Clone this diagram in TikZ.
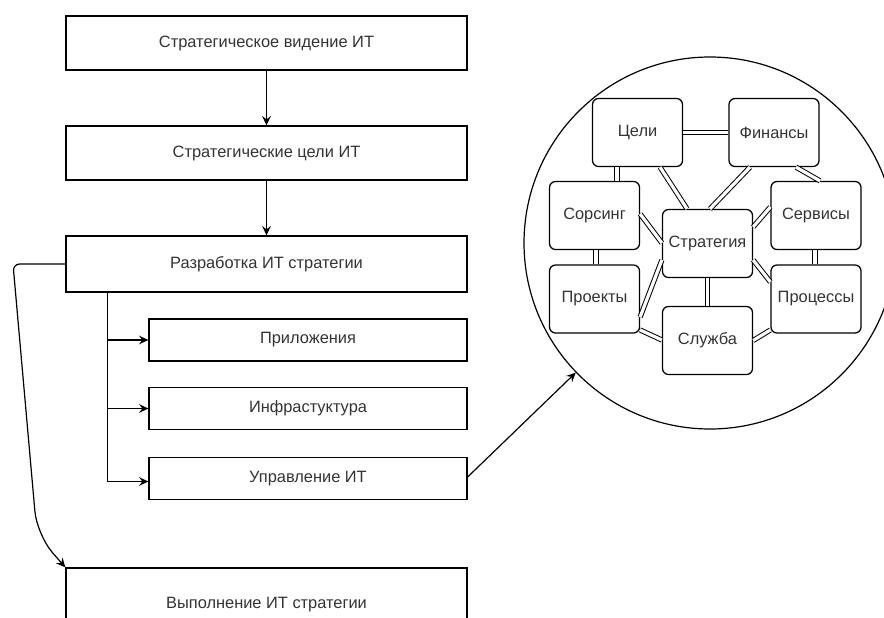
\documentclass[tikz,border=0pt]{standalone}
\usepackage{fontspec}
\setmainfont{Liberation Sans}
\usetikzlibrary{arrows.meta}
\begin{document}
\begin{tikzpicture}[x=0.75pt,y=-0.75pt,
  every node/.style={font=\fontsize{12.3}{14}\selectfont, text=black!80},
  box/.style={draw, line width=0.95pt, inner sep=0pt, minimum width=300.75pt, minimum height=40.5pt},
  subbox/.style={draw, line width=0.95pt, inner sep=0pt, minimum width=238.5pt, minimum height=31.5pt},
  area/.style={draw, line width=0.95pt, inner sep=0pt, minimum width=67.5pt, minimum height=51pt, rounded corners=4.5pt},
  arr/.style={-{Stealth[length=7pt,width=6.5pt,inset=2.5pt]}, line width=0.9pt},
  lnk/.style={double, double distance=2.4pt, line width=0.75pt}]
\useasboundingbox (0,0) rectangle (884,617);
\clip (0,0) rectangle (884,617);

% main chain
\node[box] (b1) at (266.5,43) {Стратегическое видение ИТ};
\node[box] (b2) at (266.5,153) {Стратегические цели ИТ};
\node[box, minimum height=42pt] (b3) at (266.5,264) {Разработка ИТ стратегии};
\node[subbox] (app) at (308,340) {Приложения};
\node[subbox] (inf) at (308,408.5) {Инфрастуктура};
\node[subbox] (gov) at (308,478.5) {Управление ИТ};
\node[box, minimum height=55.5pt] (b5) at (266.5,605) {Выполнение ИТ стратегии};

\draw[arr] (b1) -- (b2);
\draw[arr] (b2) -- (b3);
\draw[arr] ([shift={(42,0)}]b3.south west) |- (app.west);
\draw[arr] ([shift={(42,0)}]b3.south west) |- (inf.west);
\draw[arr] ([shift={(42,0)}]b3.south west) |- ([shift={(0,3)}]gov.west);
\draw[arr] (b3.west) [rounded corners=5pt] -- (13,264) [rounded corners=18pt] -- (37,535) [sharp corners] -- (b5.north west);

% IT management areas
\node[draw, circle, line width=0.9pt, inner sep=0pt, minimum size=279pt] (circ) at (710,243) {};
\draw[arr] ([shift={(0,-1.5)}]gov.east) -- (circ);

\node[area] (cel) at (637.5,132.5) {Цели};
\node[area] (fin) at (774,132.5) {Финансы};
\node[area] (sor) at (594.5,215.5) {Сорсинг};
\node[area] (str) at (707.5,243.5) {Стратегия};
\node[area] (ser) at (816,215.5) {Сервисы};
\node[area] (pro) at (594.5,299) {Проекты};
\node[area] (prc) at (816,299) {Процессы};
\node[area] (slu) at (707.5,340.5) {Служба};

\draw[lnk] (cel.east) -- (fin.west);
\draw[lnk] ([shift={(-20.5,0)}]cel.south) -- ([shift={(22.5,0)}]sor.north);
\draw[lnk] ([shift={(22.5,0)}]cel.south) -- ([shift={(-20.5,0)}]str.north);
\draw[lnk] ([shift={(-24,0)}]fin.south) -- ([shift={(2.5,0)}]str.north);
\draw[lnk] ([shift={(22,0)}]fin.south) -- ([shift={(4,0)}]ser.north);
\draw[lnk] ([shift={(0,-1.5)}]sor.east) -- ([shift={(0,-0.5)}]str.west);
\draw[lnk] ([shift={(0,-8.5)}]ser.west) -- ([shift={(0,-16.5)}]str.east);
\draw[lnk] ([shift={(1.5,0)}]sor.south) -- ([shift={(1.5,0)}]pro.north);
\draw[lnk] ([shift={(-1,0)}]ser.south) -- ([shift={(-1,0)}]prc.north);
\draw[lnk] ([shift={(0,16.5)}]str.west) -- ([shift={(0,18)}]pro.east);
\draw[lnk] ([shift={(0,16.5)}]str.east) -- ([shift={(0,-17)}]prc.west);
\draw[lnk] (str.south) -- (slu.north);
\draw[lnk] ([shift={(0,31)}]pro.east) -- ([shift={(0,-0.5)}]slu.west);
\draw[lnk] ([shift={(0,31)}]prc.west) -- (slu.east);
\end{tikzpicture}
\end{document}
